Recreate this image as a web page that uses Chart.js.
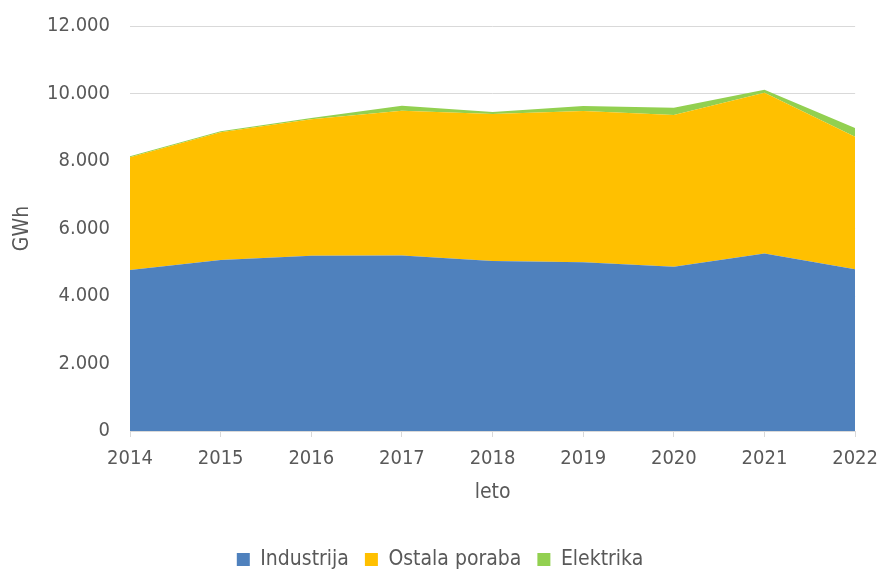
<!DOCTYPE html>
<html lang="sl">
<head>
  <meta charset="UTF-8">
  <title>Poraba elektrike</title>
  <style>
    body { margin: 0; background: #fff; }
    #wrap { width: 880px; height: 569px; }
  </style>
</head>
<body>
<div id="wrap"><canvas id="chart"></canvas></div>

<script src="https://cdn.jsdelivr.net/npm/chart.js"></script>
<script>
// podatki (GWh)
const leta = ['2014', '2015', '2016', '2017', '2018', '2019', '2020', '2021', '2022'];
const industrija = [4770, 5070, 5190, 5200, 5040, 5000, 4870, 5260, 4790];
const ostalaPoraba = [3340, 3780, 4045, 4290, 4350, 4480, 4490, 4760, 3930];
const elektrika = [30, 30, 40, 150, 60, 150, 220, 90, 260];

const textColor = '#595959';
const gridColor = '#d9d9d9';
const font = 'DejaVu Sans Condensed';

function area(label, data, color, fill) {
  return {
    label: label,
    data: data,
    backgroundColor: color,
    borderColor: color,
    borderWidth: 0,
    pointRadius: 0,
    tension: 0,
    fill: fill
  };
}

new Chart(document.getElementById('chart'), {
  type: 'line',
  data: {
    labels: leta,
    datasets: [
      area('Industrija', industrija, '#4f81bd', 'origin'),
      area('Ostala poraba', ostalaPoraba, '#ffc000', '-1'),
      area('Elektrika', elektrika, '#92d050', '-1')
    ]
  },
  options: {
    responsive: true,
    maintainAspectRatio: false,
    animation: false,
    layout: { padding: { top: 26, right: 0, bottom: -11, left: 0 } },
    plugins: {
      tooltip: { enabled: false },
      legend: {
        position: 'bottom',
        labels: {
          color: textColor,
          font: { family: font, size: 21 },
          boxWidth: 13,
          boxHeight: 13,
          padding: 16
        }
      }
    },
    scales: {
      x: {
        offset: false,
        grid: { drawOnChartArea: false, drawTicks: true, tickLength: 6, color: gridColor },
        border: { color: gridColor },
        ticks: { color: textColor, font: { family: font, size: 20, lineHeight: 2 }, padding: 2, maxRotation: 0 },
        title: {
          display: true, text: 'leto', color: textColor,
          font: { family: font, size: 21 }, padding: { top: 4, bottom: 28 }
        },
        afterFit: function (s) { s.height = 102; }
      },
      y: {
        stacked: true,
        min: 0,
        max: 12000,
        grid: { color: gridColor, drawTicks: true, tickLength: 16, tickColor: 'transparent' },
        border: { display: false },
        ticks: {
          stepSize: 2000,
          padding: 4,
          color: textColor,
          font: { family: font, size: 20 },
          callback: function (v) { return v.toLocaleString('de-DE'); }
        },
        title: {
          display: true, text: 'GWh', color: textColor,
          font: { family: font, size: 21 }, padding: { top: 10, bottom: 0 }
        },
        afterFit: function (s) { s.width = 130; }
      }
    }
  }
});
</script>
</body>
</html>
